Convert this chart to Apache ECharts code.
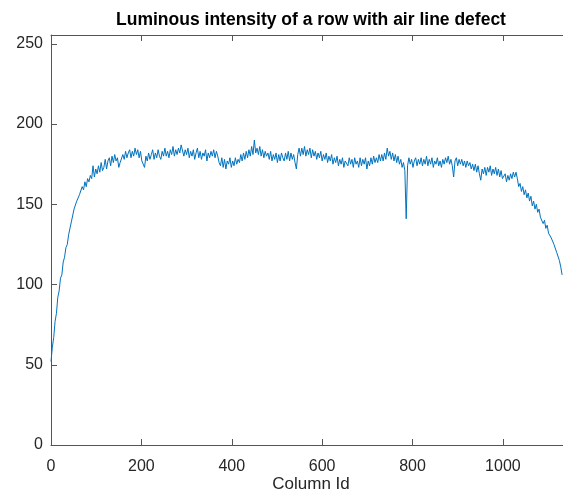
<!DOCTYPE html>
<html><head><meta charset="utf-8">
<script src="https://cdn.jsdelivr.net/npm/echarts@6/dist/echarts.min.js"></script>
<style>html,body{margin:0;padding:0;background:#fff}#c{width:563px;height:494px}</style>
</head><body><div id="c"></div>
<script>
const chartTitle = 'Luminous intensity of a row with air line defect';
const xAxisName = 'Column Id';
const columnStep = 3; // one reading every 3 columns, starting at column 0
const intensity = [
 52,61,67,77,82,92,96,104,106,114,117,123,125,131,132,139,140,147,146,152,
 151,156,155,161,159,164,161,166,164,168,166,174,167,172,169,174,170,176,171,173,
 178,172,177,179,174,180,176,181,177,179,173,176,175,181,178,183,179,182,184,179,
 183,180,185,181,184,179,183,177,176,173,180,177,182,178,181,184,178,182,179,184,
 180,178,183,180,185,180,183,179,184,181,186,180,184,181,185,182,187,188,180,184,
 181,185,179,183,180,184,178,182,185,179,183,178,182,180,184,177,182,179,183,180,
 184,179,183,180,176,174,179,173,178,172,177,175,179,173,177,174,179,175,178,176,
 181,177,182,178,183,179,184,180,186,181,190,182,185,181,186,180,184,179,183,180,
 182,178,183,177,181,178,182,176,181,177,182,179,177,182,178,183,177,182,178,181,
 176,172,181,185,180,185,181,186,180,184,181,185,179,184,180,183,178,182,179,183,
 177,181,178,182,176,180,177,181,175,179,176,180,174,178,175,179,173,177,178,174,
 179,175,178,173,179,175,177,173,179,174,178,175,179,172,177,174,179,175,180,176,
 179,176,181,177,181,177,182,178,185,180,183,178,182,177,181,176,180,175,178,173,
 176,171,141,174,179,175,178,173,177,179,174,178,175,179,174,178,175,180,174,178,
 175,179,173,177,175,179,174,177,173,178,175,179,176,180,175,178,174,167,177,179,
 174,178,175,178,174,177,173,177,174,176,172,175,171,175,170,174,169,165,172,169,
 173,168,173,170,174,168,172,169,173,168,172,167,171,166,165,169,164,168,165,169,
 166,170,167,170,166,161,163,158,161,156,159,154,157,152,155,149,152,147,150,145,
 147,142,143,138,140,135,137,132,133,129,130,125,125,120,119,115,111,106
];

const points = intensity.map((v, i) => [i * columnStep, v]);
const font = "'Liberation Sans', Arial, Helvetica, sans-serif";
const lineCol = '#555555';
const txtCol = '#262626';
const xMax = 1133, yMax = 255.5;

const chart = echarts.init(document.getElementById('c'), null, {renderer: 'canvas'});
function axisBase(extra) {
  return Object.assign({
    type: 'value',
    axisLine: {show: true, onZero: false, lineStyle: {color: lineCol, width: 1}},
    axisTick: {show: true, inside: true, length: 6, lineStyle: {color: lineCol, width: 1}},
    splitLine: {show: false}
  }, extra);
}
chart.setOption({
  animation: false,
  backgroundColor: '#ffffff',
  grid: {left: 51, right: 0, top: 35, bottom: 49, containLabel: false},
  xAxis: [
    axisBase({min: 0, max: xMax, interval: 200, position: 'bottom',
      axisLabel: {show: true, fontSize: 16, color: txtCol, fontFamily: font, margin: 14, showMaxLabel: false,
        formatter: v => String(v)}}),
    axisBase({min: 0, max: xMax, interval: 200, position: 'top', axisLabel: {show: false}})
  ],
  yAxis: [
    axisBase({min: 0, max: yMax, interval: 50, position: 'left',
      axisLabel: {show: true, fontSize: 16, color: txtCol, fontFamily: font, margin: 8, showMaxLabel: false,
        formatter: v => String(v)}})
  ],
  graphic: [
    {type: 'text', x: 311, y: 20, style: {text: chartTitle, font: 'bold 17.5px ' + font, fill: '#000', textAlign: 'center', textVerticalAlign: 'middle'}},
    {type: 'text', x: 311, y: 484, style: {text: xAxisName, font: '17px ' + font, fill: txtCol, textAlign: 'center', textVerticalAlign: 'middle'}}
  ],
  series: [{
    type: 'line', data: points, xAxisIndex: 0, yAxisIndex: 0,
    showSymbol: false, symbol: 'none',
    lineStyle: {color: '#0072BD', width: 1}, itemStyle: {color: '#0072BD'}
  }]
});
</script></body></html>
